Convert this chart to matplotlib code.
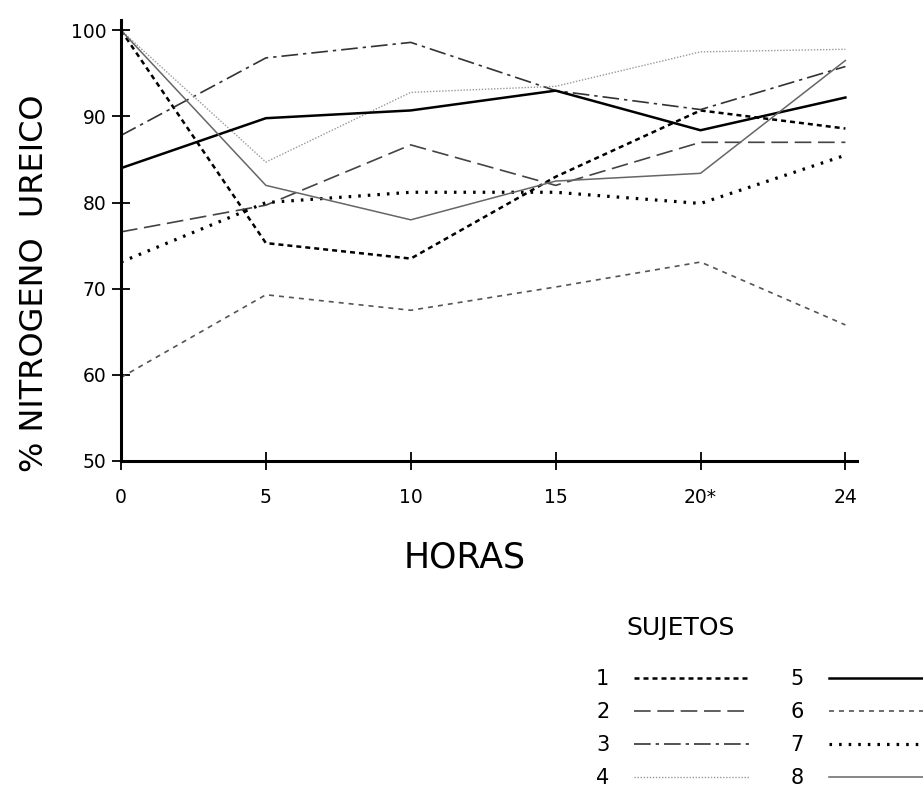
import matplotlib
matplotlib.use('Agg')
import matplotlib.pyplot as plt

horas = ['0', '5', '10', '15', '20*', '24']
pos = list(range(len(horas)))

s1 = [100, 75.3, 73.5, 83.0, 90.7, 88.6]
s2 = [76.6, 79.7, 86.7, 82.0, 87.0, 87.0]
s3 = [87.8, 96.8, 98.6, 93.0, 90.8, 95.8]
s4 = [100, 84.7, 92.8, 93.5, 97.5, 97.8]
s5 = [84.0, 89.8, 90.7, 93.0, 88.4, 92.2]
s6 = [59.7, 69.3, 67.5, 70.2, 73.1, 65.8]
s7 = [73.1, 80.0, 81.2, 81.2, 79.9, 85.5]
s8 = [100, 82.0, 78.0, 82.5, 83.4, 96.5]

sujetos = ['1', '2', '3', '4', '5', '6', '7', '8']

estilos = [
    dict(color='black', lw=1.8, ls=(0, (2, 1.6))),
    dict(color='#444444', lw=1.2, ls=(0, (10, 4))),
    dict(color='#333333', lw=1.2, ls=(0, (10, 3, 2, 3))),
    dict(color='#999999', lw=1.0, ls=(0, (1, 1.2))),
    dict(color='black', lw=1.8, ls='-'),
    dict(color='#555555', lw=1.2, ls=(0, (3, 3))),
    dict(color='black', lw=2.3, ls=(0, (0.8, 2.2))),
    dict(color='#666666', lw=1.1, ls='-'),
]

fig = plt.figure(figsize=(9.23, 7.91), dpi=100)
ax = fig.add_axes([121 / 923, 1 - 461 / 791, 736 / 923, 441 / 791])

for nombre, serie, est in zip(sujetos, [s1, s2, s3, s4, s5, s6, s7, s8], estilos):
    ax.plot(pos, serie, label=nombre, **est)

ax.set_xlim(0, 5.08)
ax.set_ylim(50, 101.2)
ax.set_xticks(pos)
ax.set_xticklabels(horas)
ax.set_yticks([50, 60, 70, 80, 90, 100])

for lado in ['top', 'right']:
    ax.spines[lado].set_visible(False)
for lado in ['left', 'bottom']:
    ax.spines[lado].set_linewidth(2.2)

ax.tick_params(axis='both', direction='inout', length=13, width=1.3, labelsize=13.5)
ax.tick_params(axis='x', pad=13)
ax.tick_params(axis='y', pad=4)

fig.text(35 / 923, 1 - 283 / 791, '% NITROGENO  UREICO', rotation=90,
         ha='center', va='center', fontsize=23)
fig.text(465 / 923, 1 - 558 / 791, 'HORAS', ha='center', va='center', fontsize=25)
fig.text(626 / 923, 1 - 628 / 791, 'SUJETOS', ha='left', va='center', fontsize=18)

ax.legend(ncol=2, markerfirst=False, frameon=False, fontsize=15,
          loc='upper left', bbox_to_anchor=(596 / 923, 1 - 669 / 791),
          bbox_transform=fig.transFigure, borderpad=0, borderaxespad=0,
          handlelength=5.5, handletextpad=1.2, columnspacing=2.0,
          labelspacing=0.63)

fig.savefig('out.png', dpi=100)
